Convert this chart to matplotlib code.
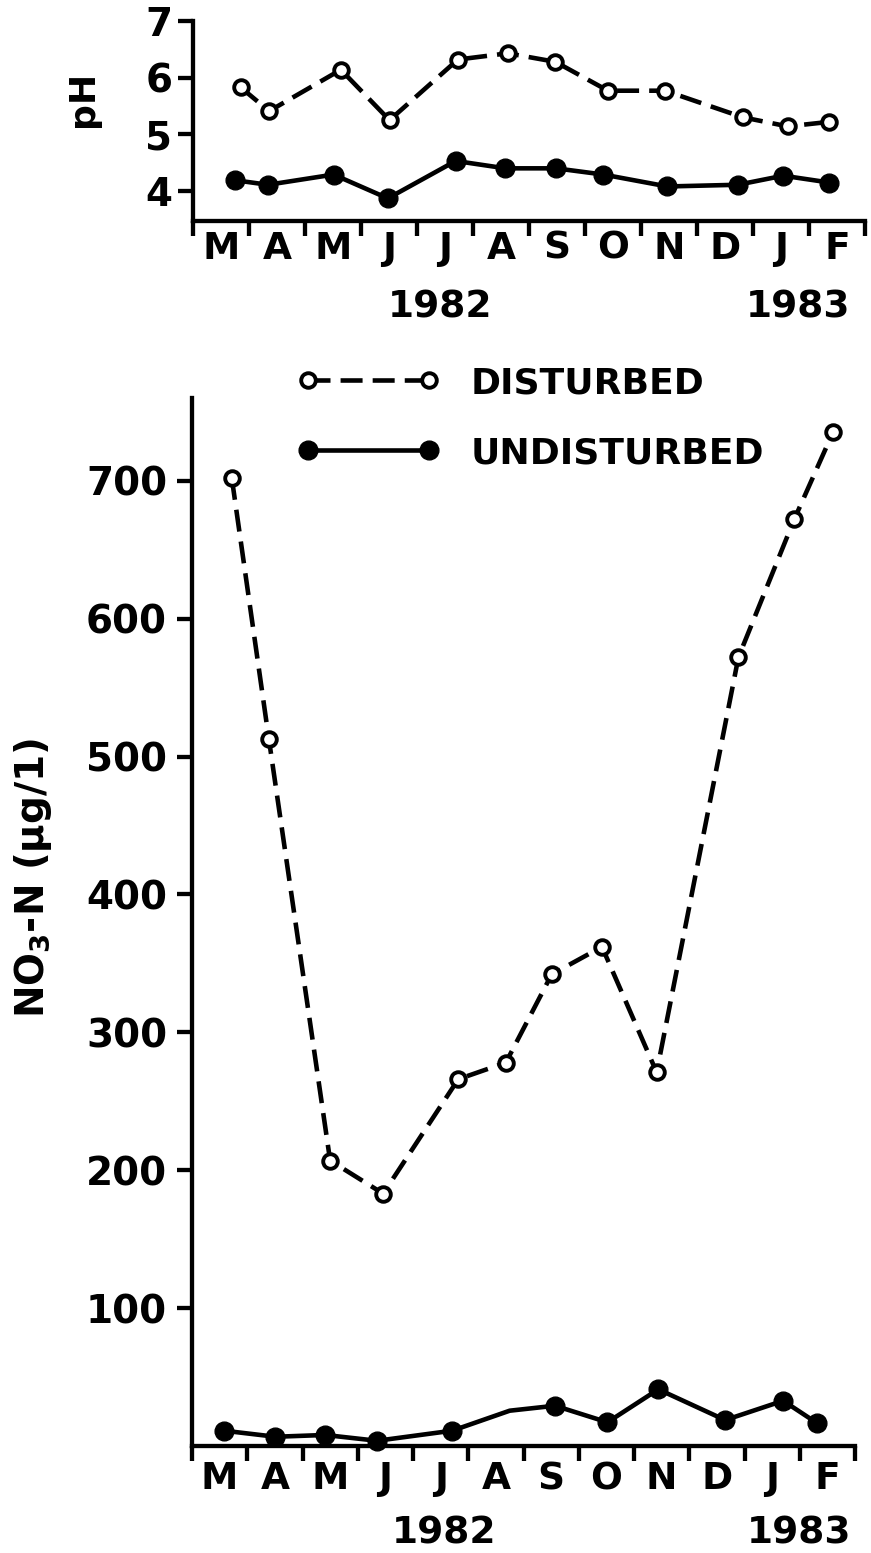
import numpy as np
import matplotlib
matplotlib.use("Agg")
import matplotlib.pyplot as plt
from matplotlib.lines import Line2D

# ---------------- data ----------------
months = ["M", "A", "M", "J", "J", "A", "S", "O", "N", "D", "J", "F"]
years = ["1982", "1983"]

# x = months elapsed since 1 March 1982
ph_dist_x = [0.85, 1.36, 2.64, 3.51, 4.73, 5.62, 6.47, 7.41, 8.43, 9.82, 10.62, 11.36]
ph_dist = [5.83, 5.41, 6.14, 5.25, 6.32, 6.43, 6.28, 5.77, 5.77, 5.30, 5.14, 5.22]
ph_und_x = [0.75, 1.34, 2.51, 3.48, 4.69, 5.58, 6.48, 7.33, 8.47, 9.73, 10.54, 11.36]
ph_und = [4.19, 4.11, 4.29, 3.87, 4.53, 4.40, 4.40, 4.29, 4.08, 4.11, 4.27, 4.15]

no3_dist_x = [0.72, 1.39, 2.50, 3.46, 4.82, 5.68, 6.51, 7.42, 8.41, 9.89, 10.90, 11.60]
no3_dist = [702, 513, 207, 183, 266, 278, 342, 362, 271, 572, 672, 735]
no3_und_x = [0.58, 1.51, 2.41, 3.35, 4.71, 5.75, 6.57, 7.52, 8.44, 9.65, 10.70, 11.32]
no3_und = [11.1, 6.7, 8.0, 3.8, 11.1, 25.6, 29.2, 17.2, 41.1, 18.8, 32.8, 16.4]
no3_und_marked = [0, 1, 2, 3, 4, 6, 7, 8, 9, 10, 11]   # the August point has no symbol

ph_ticks = [4, 5, 6, 7]
no3_ticks = [100, 200, 300, 400, 500, 600, 700]
legend_labels = ["DISTURBED", "UNDISTURBED"]

# ---------------- style ----------------
plt.rcParams["font.family"] = ["DejaVu Sans"]
plt.rcParams["font.weight"] = "bold"
plt.rcParams["mathtext.default"] = "regular"
FS_TICK = 28
FS_MON = 27
FS_LEG = 26
LW = 3.3
DASH = (0, (4.8, 2.2))
OPEN = dict(marker="o", ms=10.5, mfc="white", mec="black", mew=2.8)
FILLED = dict(marker="o", ms=13.5, mfc="black", mec="black")

W, H = 871, 1553
fig = plt.figure(figsize=(W / 100, H / 100), dpi=100)


def px_axes(l, t, r, b):
    return fig.add_axes([l / W, 1 - b / H, (r - l) / W, (b - t) / H])


ax1 = px_axes(193, 21, 865, 221)
ax2 = px_axes(192, 398, 855, 1446)


def style(ax, xpad, ypad):
    ax.spines[["top", "right"]].set_visible(False)
    ax.spines[["left", "bottom"]].set_linewidth(3.1)
    ax.set_xlim(0, 12)
    ax.set_xticks(np.arange(13))
    ax.set_xticks(np.arange(12) + 0.5, minor=True)
    ax.set_xticklabels([])
    ax.set_xticklabels(months, minor=True, fontsize=FS_MON, fontweight="bold")
    ax.tick_params(axis="x", which="major", direction="out", length=11, width=3.1)
    ax.tick_params(axis="x", which="minor", length=0, pad=xpad)
    ax.tick_params(axis="y", direction="out", length=11, width=3.1, pad=ypad,
                   labelsize=FS_TICK)
    for t in ax.get_yticklabels():
        t.set_fontweight("bold")
    ax.set_facecolor("none")


# ---------------- top panel: pH ----------------
ax1.plot(ph_dist_x, ph_dist, color="black", lw=LW, linestyle=DASH,
         clip_on=False, **OPEN)
ax1.plot(ph_und_x, ph_und, color="black", lw=LW, linestyle="-",
         clip_on=False, **FILLED)
ax1.set_ylim(4 - 30 / 56.67, 7)
ax1.set_yticks(ph_ticks)
style(ax1, xpad=7, ypad=4)
ax1.set_ylabel("pH", fontsize=FS_LEG, fontweight="bold")
ax1.yaxis.set_label_coords(-0.138, 0.61)
for lab, xv in zip(years, [4.42, 10.81]):
    ax1.annotate(lab, xy=(xv, 0), xycoords=("data", "axes fraction"),
                 xytext=(0, -86), textcoords="offset pixels",
                 ha="center", va="center", fontsize=FS_MON, fontweight="bold")

# ---------------- bottom panel: NO3-N ----------------
ax2.plot(no3_dist_x, no3_dist, color="black", lw=LW, linestyle=DASH,
         clip_on=False, **OPEN)
ax2.plot(no3_und_x, no3_und, color="black", lw=LW, linestyle="-",
         markevery=no3_und_marked, clip_on=False, **FILLED)
ax2.set_ylim(0, 760)
ax2.set_yticks(no3_ticks)
style(ax2, xpad=11, ypad=7)
ax2.set_ylabel(r"NO$_{3}$-N ($\mu$g/1)", fontsize=28, fontweight="bold")
ax2.yaxis.set_label_coords(-0.208, 0.542)
for lab, xv in zip(years, [4.56, 10.99]):
    ax2.annotate(lab, xy=(xv, 0), xycoords=("data", "axes fraction"),
                 xytext=(0, -88), textcoords="offset pixels",
                 ha="center", va="center", fontsize=FS_MON, fontweight="bold")

# ---------------- legend ----------------
h_dist = Line2D([], [], color="black", lw=LW, linestyle=DASH, **OPEN)
h_und = Line2D([], [], color="black", lw=LW, linestyle="-", **FILLED)
leg = ax2.legend([h_dist, h_und], legend_labels, loc="upper left",
                 bbox_to_anchor=(297 / W, 1 - 366 / H),
                 bbox_transform=fig.transFigure, frameon=False,
                 numpoints=2, handlelength=3.95, handletextpad=0.85,
                 labelspacing=1.0, borderpad=0, borderaxespad=0,
                 prop={"size": FS_LEG, "weight": "bold"})

fig.savefig("out.png", dpi=100, facecolor="white")
